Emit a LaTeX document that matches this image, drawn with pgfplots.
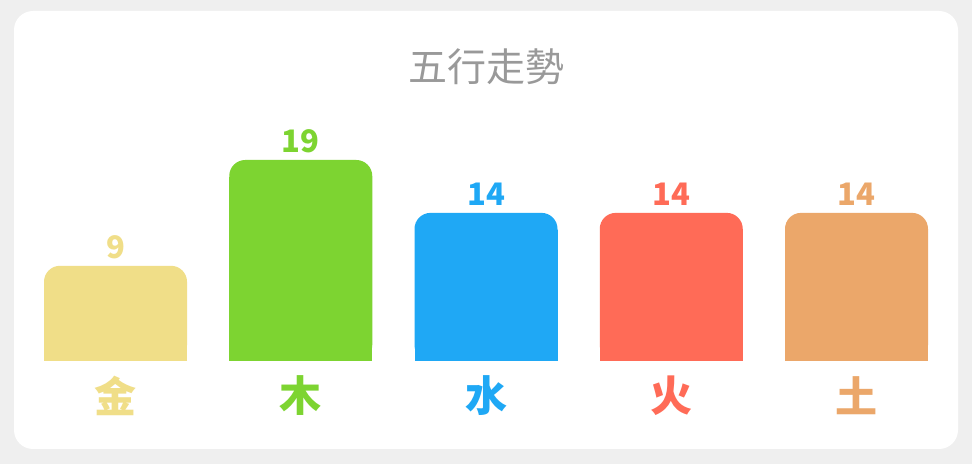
\documentclass[border=0pt]{standalone}
\usepackage{fontspec}
\setmainfont{Noto Sans}
\newfontfamily\cjk{Noto Sans CJK TC}
\usepackage{pgfplots}
\pgfplotsset{compat=1.18}

\definecolor{bg}{HTML}{EFEFEF}
\definecolor{titlegray}{HTML}{999999}
\definecolor{jin}{HTML}{F0DE88}
\definecolor{mu}{HTML}{7DD431}
\definecolor{shui}{HTML}{1FA8F5}
\definecolor{huo}{HTML}{FF6B57}
\definecolor{tu}{HTML}{EBA76A}

\pgfplotsset{
  roundbar/.style={fill=#1, draw=none, rounded corners=16bp, bar shift=0pt,
    nodes near coords,
    every node near coord/.append style={text=#1, inner sep=0pt, yshift=7bp, anchor=south,
      font=\cjk\bfseries\fontsize{31bp}{33bp}\selectfont}},
  squarebar/.style={fill=#1, draw=none, bar shift=0pt, yshift=-17bp},
}

\begin{document}
\begin{tikzpicture}
\useasboundingbox (0,0) rectangle (972bp,464bp);
\fill[bg] (0,0) rectangle (972bp,464bp);
\fill[white, rounded corners=19bp] (14bp,15bp) rectangle (958bp,453bp);
\begin{axis}[
    at={(44bp,103bp)}, anchor=south west,
    scale only axis,
    width=884bp, height=211.58bp,
    xmin=-0.386, xmax=4.386,
    ymin=0, ymax=20,
    ybar, bar width=143bp,
    axis line style={draw=none},
    tick style={draw=none},
    ytick=\empty,
    xtick={0,1,2,3,4},
    xticklabels={\textcolor{jin}{金},\textcolor{mu}{木},\textcolor{shui}{水},\textcolor{huo}{火},\textcolor{tu}{土}},
    xticklabel style={anchor=center, inner sep=0pt, yshift=-30.5bp,
      font=\cjk\bfseries\fontsize{42bp}{46bp}\selectfont},
    title={五行走勢},
    title style={at={(0.5,1)}, anchor=center, yshift=76.4bp, inner sep=0pt,
      text=titlegray, font=\cjk\fontsize{39bp}{42bp}\selectfont},
    /pgf/number format/assume math mode=true,
]
\addplot[roundbar=jin]  coordinates {(0,9)};
\addplot[squarebar=jin] coordinates {(0,9)};
\addplot[roundbar=mu]  coordinates {(1,19)};
\addplot[squarebar=mu] coordinates {(1,19)};
\addplot[roundbar=shui]  coordinates {(2,14)};
\addplot[squarebar=shui] coordinates {(2,14)};
\addplot[roundbar=huo]  coordinates {(3,14)};
\addplot[squarebar=huo] coordinates {(3,14)};
\addplot[roundbar=tu]  coordinates {(4,14)};
\addplot[squarebar=tu] coordinates {(4,14)};
\end{axis}
\end{tikzpicture}
\end{document}
